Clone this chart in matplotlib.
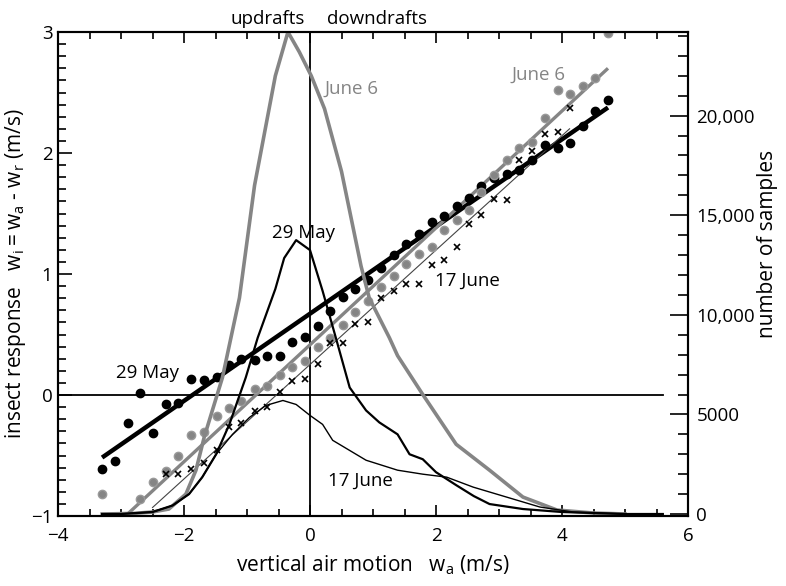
import numpy as np
import matplotlib
matplotlib.use("Agg")
import matplotlib.pyplot as plt
from matplotlib.ticker import MultipleLocator, FuncFormatter

plt.rcParams["font.family"] = ["Open Sans", "DejaVu Sans"]
plt.rcParams["mathtext.fontset"] = "custom"
plt.rcParams["mathtext.rm"] = "Open Sans"
plt.rcParams["mathtext.it"] = "Open Sans"

GRAY = "#858585"

# bin centres of vertical air motion (m/s)
wa_bins = [-3.30, -3.09, -2.89, -2.70, -2.49, -2.29, -2.09, -1.89, -1.69, -1.48,
           -1.28, -1.09, -0.88, -0.68, -0.48, -0.28, -0.08, 0.12, 0.32, 0.52,
           0.72, 0.92, 1.13, 1.33, 1.53, 1.73, 1.93, 2.13, 2.33, 2.52,
           2.72, 2.92, 3.12, 3.32, 3.53, 3.73, 3.93, 4.12, 4.33, 4.53, 4.73]

nan = np.nan
# insect response w_i (m/s)
resp_may29 = [-0.61, -0.545, -0.233, 0.013, -0.318, -0.075, -0.062, 0.13, 0.126, 0.15,
              0.25, 0.298, 0.29, 0.325, 0.32, 0.435, 0.483, 0.573, 0.692, 0.808,
              0.877, 0.95, 1.05, 1.155, 1.245, 1.333, 1.43, 1.476, 1.559, 1.63,
              1.725, 1.79, 1.824, 1.857, 1.94, 2.064, 2.04, 2.08, 2.22, 2.35, 2.44]
resp_jun6 = [-0.82, nan, nan, -0.86, -0.716, -0.627, -0.503, -0.332, -0.304, -0.172,
             -0.111, -0.053, 0.049, 0.077, 0.165, 0.234, 0.284, 0.394, 0.47, 0.576,
             0.69, 0.774, 0.89, 0.98, 1.085, 1.167, 1.222, 1.366, 1.449, 1.526,
             1.678, 1.816, 1.94, 2.045, 2.09, 2.29, 2.52, 2.49, 2.55, 2.62, 2.99]
resp_jun17 = [nan, nan, nan, nan, nan, -0.655, -0.65, -0.613, -0.566, -0.456,
              -0.263, -0.235, -0.136, -0.097, 0.021, 0.118, 0.13, 0.256, 0.427, 0.427,
              0.587, 0.60, 0.80, 0.86, 0.918, 0.918, 1.078, 1.117, 1.222, 1.41,
              1.484, 1.617, 1.614, 1.945, 2.02, 2.155, 2.17, 2.37, nan, nan, nan]

# linear fits (end points)
fit_may29_x = [-3.30, 4.73]
fit_may29_y = [-0.517, 2.376]
fit_jun6_x = [-2.90, 4.73]
fit_jun6_y = [-0.986, 2.70]
fit_jun17_x = [-2.50, 4.12]
fit_jun17_y = [-0.93, 2.20]

# sample-count distributions (right axis)
hist_jun6_x = [-3.3, -2.8, -2.5, -2.24, -1.97, -1.81, -1.68, -1.55, -1.39, -1.12,
               -0.88, -0.55, -0.35, -0.17, 0.02, 0.23, 0.5, 0.81, 0.94, 1.26,
               1.39, 1.79, 2.32, 2.85, 3.38, 3.92, 4.5, 5.0]
hist_jun6_n = [0, 30, 100, 250, 1000, 2200, 3850, 5200, 6850, 10850,
               16500, 22000, 24200, 23200, 22000, 20350, 17200, 12450, 10850, 8850,
               7950, 6000, 3500, 2200, 850, 200, 50, 0]
hist_may29_x = [-3.3, -3.0, -2.5, -2.18, -1.92, -1.71, -1.49, -1.28, -1.02, -0.83,
                -0.55, -0.41, -0.22, 0.0, 0.2, 0.41, 0.63, 0.89, 1.1, 1.39,
                1.58, 1.79, 2.0, 2.32, 2.6, 2.85, 3.38, 4.0, 5.0, 5.6]
hist_may29_n = [0, 0, 100, 430, 1000, 1850, 3000, 4500, 6850, 8850,
                11300, 12850, 13750, 13250, 11200, 8850, 6350, 5200, 4600, 4000,
                3000, 2750, 2100, 1450, 900, 500, 250, 100, 0, 0]
hist_jun17_x = [-3.3, -3.03, -2.5, -2.18, -1.92, -1.71, -1.49, -1.23, -0.96, -0.70,
                -0.43, -0.22, 0.0, 0.2, 0.36, 0.89, 1.39, 1.79, 2.17, 2.59,
                3.12, 3.65, 4.18, 5.0, 5.6]
hist_jun17_n = [0, 0, 100, 430, 1000, 1850, 3000, 4000, 4850, 5450,
                5700, 5500, 4950, 4500, 3700, 2700, 2200, 2000, 1850, 1350,
                850, 350, 100, 0, 0]

fig = plt.figure(figsize=(7.86, 5.86), dpi=100)
ax = fig.add_axes([58 / 786, 1 - 516 / 586, 630 / 786, 484 / 586])
ax2 = ax.twinx()

ax.set_xlim(-4, 6)
ax.set_ylim(-1, 3)
ax2.set_ylim(-100, 24200)

ax.axvline(0, color="black", lw=1.3)
ax.plot([-4, 5.6], [0, 0], color="black", lw=1.3)

# fits
ax.plot(fit_may29_x, fit_may29_y, color="black", lw=3.2, solid_capstyle="butt")
ax.plot(fit_jun6_x, fit_jun6_y, color=GRAY, lw=2.4, solid_capstyle="butt")
ax.plot(fit_jun17_x, fit_jun17_y, color="#444444", lw=0.8)

# data points
ax.plot(wa_bins, resp_may29, "o", color="black", ms=6, ls="none")
ax.plot(wa_bins, resp_jun6, "o", color=GRAY, ms=6, ls="none", mec="#9a9a9a")
ax.plot(wa_bins, resp_jun17, "x", color="black", ms=4, mew=1.2, ls="none")

# histograms
ax2.plot(hist_jun6_x, hist_jun6_n, color=GRAY, lw=2.6)
ax2.plot(hist_may29_x, hist_may29_n, color="black", lw=1.6)
ax2.plot(hist_jun17_x, hist_jun17_n, color="black", lw=1.0)

# ticks
fs = 13.5
ax.xaxis.set_major_locator(MultipleLocator(2))
ax.xaxis.set_minor_locator(MultipleLocator(0.5))
ax.yaxis.set_major_locator(MultipleLocator(1))
ax.yaxis.set_minor_locator(MultipleLocator(0.1))
ax.tick_params(axis="both", which="both", direction="in", top=True, right=False,
               labelsize=fs, width=1.2)
ax.tick_params(axis="x", which="major", length=8, pad=8)
ax.tick_params(axis="x", which="minor", length=5)
ax.tick_params(axis="y", which="major", length=10, pad=4)
ax.tick_params(axis="y", which="minor", length=6)

ax2.yaxis.set_major_locator(MultipleLocator(5000))
ax2.yaxis.set_minor_locator(MultipleLocator(1000))
ax2.set_yticks([0, 5000, 10000, 15000, 20000])
ax2.yaxis.set_major_formatter(FuncFormatter(
    lambda v, p: f"{int(v):,}" if v >= 10000 else f"{int(v)}"))
ax2.tick_params(axis="y", which="both", direction="in", labelsize=fs, width=1.2, pad=6)
ax2.tick_params(axis="y", which="major", length=13)
ax2.tick_params(axis="y", which="minor", length=7)

for a in (ax, ax2):
    for s in a.spines.values():
        s.set_linewidth(1.5)

ax.set_xlabel(r"vertical air motion   $\mathrm{w_a}$ (m/s)", fontsize=15, labelpad=6)
ax.set_ylabel(r"insect response   $\mathrm{w_i = w_a}$ - $\mathrm{w_r}$ (m/s)",
              fontsize=15, labelpad=2)
fig.text(768 / 786, 1 - 244 / 586, "number of samples", rotation=90, fontsize=15,
         ha="center", va="center")

# annotations
ax.text(-0.67, 3.03, "updrafts", fontsize=fs, ha="center", va="bottom")
ax.text(1.06, 3.03, "downdrafts", fontsize=fs, ha="center", va="bottom")
ax.text(0.23, 2.53, "June 6", fontsize=fs, color=GRAY, va="center")
ax.text(3.20, 2.645, "June 6", fontsize=fs, color=GRAY, va="center")
ax.text(-0.61, 1.335, "29 May", fontsize=fs, va="center")
ax.text(-3.08, 0.184, "29 May", fontsize=fs, va="center")
ax.text(1.98, 0.946, "17 June", fontsize=fs, va="center")
ax.text(0.28, -0.71, "17 June", fontsize=fs, va="center")

fig.savefig("out.png", dpi=100)
